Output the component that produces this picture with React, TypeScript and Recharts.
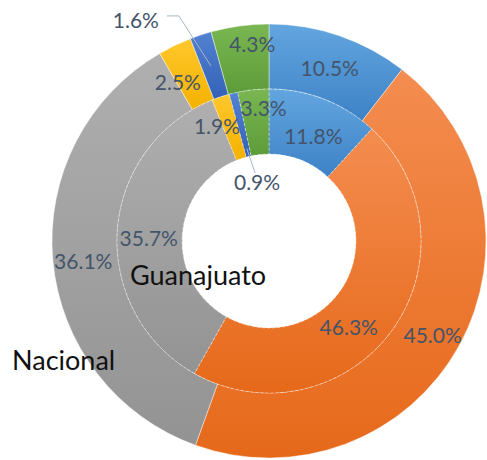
import React from 'react';
import { PieChart, Pie, Cell } from 'recharts';

const categories = ['A', 'B', 'C', 'D', 'E', 'F'];
const nacional = [10.5, 45.0, 36.1, 2.5, 1.6, 4.3];
const guanajuato = [11.8, 46.3, 35.7, 1.9, 0.9, 3.3];
const ringNames = ['Guanajuato', 'Nacional'];

const gradients = [
  ['#62A5DF', '#3D82C6'],
  ['#F48D50', '#E6691A'],
  ['#AFAFAF', '#939393'],
  ['#FFC72C', '#F4B200'],
  ['#5282D2', '#3461B6'],
  ['#7AB752', '#5C9C38'],
];

const CX = 269;
const CY = 241;

// label nudges (px) relative to the ring's mid radius
const outerNudge = [[1, 1], [2, 5], [-2, 3], [-11, 7], [-75, -46], [8, -15]];
const innerNudge = [[1, 6], [-17, 15], [-1, 4], [-14, -2], [16, 57], [7, -15]];
const outerLeader = [false, false, false, false, true, false];
const innerLeader = [false, false, false, false, true, false];

const outerData = categories.map((c, i) => ({ name: c, value: nacional[i] }));
const innerData = categories.map((c, i) => ({ name: c, value: guanajuato[i] }));

const RAD = Math.PI / 180;
const LABEL_COLOR = '#44546A';
const LEADER_COLOR = '#A9B6C8';
const FONT = 'Lato, "Open Sans", sans-serif';

function makeLabel(nudge: number[][], leader: boolean[], kind: 'outer' | 'inner') {
  return (props: any) => {
    const { cx, cy, midAngle, innerRadius, outerRadius, index, value } = props;
    const mr = (innerRadius + outerRadius) / 2;
    const bx = cx + mr * Math.cos(-midAngle * RAD);
    const by = cy + mr * Math.sin(-midAngle * RAD);
    const x = bx + nudge[index][0];
    const y = by + nudge[index][1];
    let line = null;
    if (leader[index]) {
      if (kind === 'outer') {
        const pts = `${x + 31},${y - 4} ${x + 43},${y - 4} ${bx},${by}`;
        line = <polyline points={pts} fill="none" stroke={LEADER_COLOR} strokeWidth={1} />;
      } else {
        const r = innerRadius + 8;
        const px = cx + r * Math.cos(-midAngle * RAD);
        const py = cy + r * Math.sin(-midAngle * RAD);
        line = <polyline points={`${x - 2},${y - 9} ${px},${py}`} fill="none" stroke={LEADER_COLOR} strokeWidth={1} />;
      }
    }
    return (
      <g>
        {line}
        <text
          x={x}
          y={y}
          fill={LABEL_COLOR}
          textAnchor="middle"
          dominantBaseline="central"
          fontFamily={FONT}
          fontSize={21}
        >
          {`${value.toFixed(1)}%`}
        </text>
      </g>
    );
  };
}

export default function App() {
  return (
    <div style={{ position: 'absolute', left: 0, top: 0, width: 487, height: 460, background: '#fff' }}>
      <svg width={0} height={0} style={{ position: 'absolute' }}>
        <defs>
          {gradients.map((g, i) => (
            <linearGradient key={i} id={`grad${i}`} x1="0" y1="0" x2="0" y2="1">
              <stop offset="0%" stopColor={g[0]} />
              <stop offset="100%" stopColor={g[1]} />
            </linearGradient>
          ))}
        </defs>
      </svg>
      <PieChart width={487} height={460} margin={{ top: 0, right: 0, bottom: 0, left: 0 }}>
        <Pie
          data={outerData}
          dataKey="value"
          cx={CX}
          cy={CY}
          innerRadius={152}
          outerRadius={217}
          startAngle={90}
          endAngle={-270}
          stroke="#ffffff"
          strokeWidth={0.6}
          strokeOpacity={0.7}
          isAnimationActive={false}
          labelLine={false}
          label={makeLabel(outerNudge, outerLeader, 'outer')}
        >
          {outerData.map((d, i) => (
            <Cell key={d.name} fill={`url(#grad${i})`} />
          ))}
        </Pie>
        <Pie
          data={innerData}
          dataKey="value"
          cx={CX}
          cy={CY}
          innerRadius={87}
          outerRadius={152}
          startAngle={90}
          endAngle={-270}
          stroke="#ffffff"
          strokeWidth={0.6}
          strokeOpacity={0.7}
          strokeDasharray="3 2"
          isAnimationActive={false}
          labelLine={false}
          label={makeLabel(innerNudge, innerLeader, 'inner')}
        >
          {innerData.map((d, i) => (
            <Cell key={d.name} fill={`url(#grad${i})`} />
          ))}
        </Pie>
      </PieChart>
      <svg
        width={487}
        height={460}
        style={{ position: 'absolute', left: 0, top: 0, pointerEvents: 'none' }}
      >
        <text x={CX - 139} y={CY + 44} fill="#111" fontFamily={FONT} fontSize={27}>
          {ringNames[0]}
        </text>
        <text x={CX - 257} y={CY + 129} fill="#111" fontFamily={FONT} fontSize={27}>
          {ringNames[1]}
        </text>
      </svg>
    </div>
  );
}
